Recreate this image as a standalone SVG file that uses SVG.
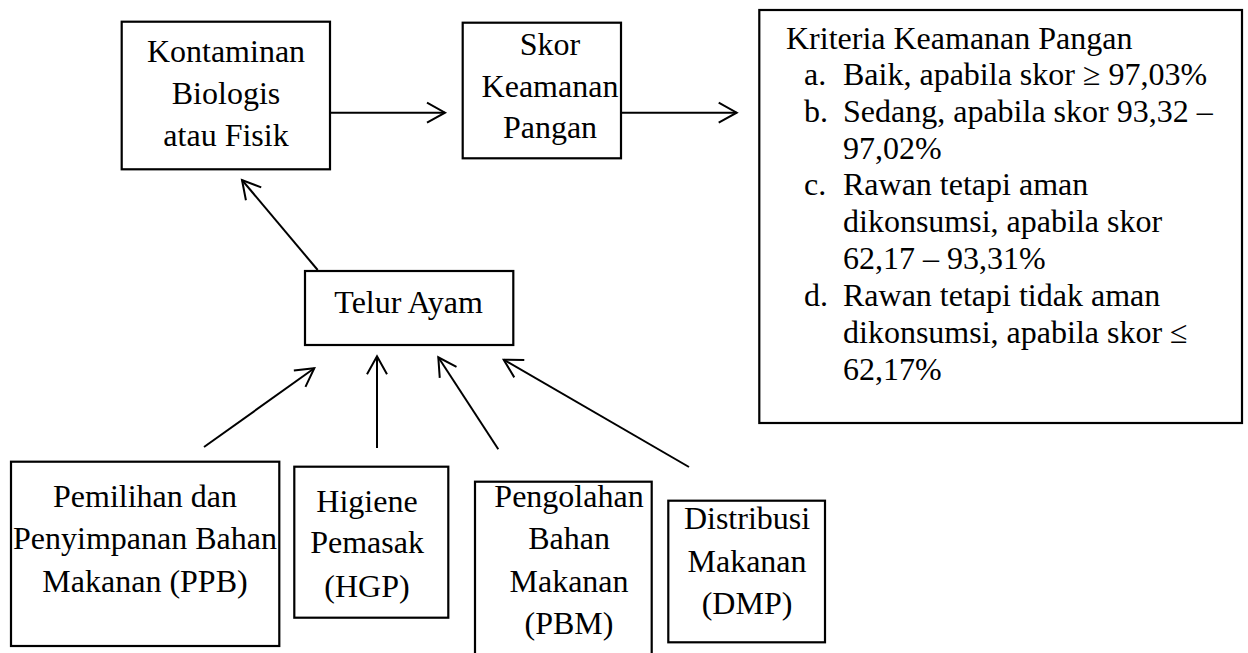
<svg xmlns="http://www.w3.org/2000/svg" width="1248" height="653" viewBox="0 0 1248 653">
<style>
  .box { fill: #ffffff; stroke: #000000; stroke-width: 2.2; }
  .t { font-family: "Liberation Serif", "Times New Roman", serif; font-size: 32px; fill: #000000; }
  .c { text-anchor: middle; }
  .conn { stroke: #000000; stroke-width: 2; fill: none; marker-end: url(#arr); }
</style>
<defs>
  <marker id="arr" markerUnits="userSpaceOnUse" viewBox="-22 -12 24 24" markerWidth="24" markerHeight="24" refX="0" refY="0" orient="auto" overflow="visible">
    <path d="M-18,-10 L0,0 L-18,10" fill="none" stroke="#000000" stroke-width="2"/>
  </marker>
</defs>
<rect x="0" y="0" width="1248" height="653" fill="#ffffff"/>

<g id="connectors">
  <path class="conn" d="M330,112.7 L445,112.7"/>
  <path class="conn" d="M621,112.7 L736.7,112.7"/>
  <path class="conn" d="M317.7,270 L242,180"/>
  <path class="conn" d="M204,447 L314.3,368.3"/>
  <path class="conn" d="M377,448 L377,356.3"/>
  <path class="conn" d="M498.3,449.3 L438.3,357.3"/>
  <path class="conn" d="M689,467 L503.7,359.7"/>
</g>

<g id="kontaminan">
  <rect class="box" x="121.7" y="21.7" width="208.3" height="147.6"/>
  <text class="t c" x="226" y="62">Kontaminan</text>
  <text class="t c" x="226" y="103.5">Biologis</text>
  <text class="t c" x="226" y="145.7">atau Fisik</text>
</g>

<g id="skor">
  <rect class="box" x="462.7" y="22.7" width="158.3" height="135.6"/>
  <text class="t c" x="550" y="55">Skor</text>
  <text class="t c" x="550" y="96.7">Keamanan</text>
  <text class="t c" x="550" y="138.3">Pangan</text>
</g>

<g id="kriteria">
  <rect class="box" x="759.3" y="10" width="482.7" height="413"/>
  <text class="t" x="786" y="49">Kriteria Keamanan Pangan</text>
  <text class="t" x="804" y="85">a.</text>
  <text class="t" x="843" y="85">Baik, apabila skor ≥ 97,03%</text>
  <text class="t" x="804" y="122">b.</text>
  <text class="t" x="843" y="122">Sedang, apabila skor 93,32 –</text>
  <text class="t" x="843" y="158.5">97,02%</text>
  <text class="t" x="804" y="195">c.</text>
  <text class="t" x="843" y="195">Rawan tetapi aman</text>
  <text class="t" x="843" y="232">dikonsumsi, apabila skor</text>
  <text class="t" x="843" y="269">62,17 – 93,31%</text>
  <text class="t" x="804" y="306">d.</text>
  <text class="t" x="843" y="306">Rawan tetapi tidak aman</text>
  <text class="t" x="843" y="343">dikonsumsi, apabila skor ≤</text>
  <text class="t" x="843" y="380">62,17%</text>
</g>

<g id="telur">
  <rect class="box" x="305" y="271" width="208.3" height="74"/>
  <text class="t c" x="408.6" y="312.5">Telur Ayam</text>
</g>

<g id="ppb">
  <rect class="box" x="11" y="461.7" width="268.3" height="184.3"/>
  <text class="t c" x="145" y="506.7">Pemilihan dan</text>
  <text class="t c" x="145" y="549.3">Penyimpanan Bahan</text>
  <text class="t c" x="145" y="591.7">Makanan (PPB)</text>
</g>

<g id="hgp">
  <rect class="box" x="294.3" y="466.7" width="154" height="151"/>
  <text class="t c" x="367" y="511.7">Higiene</text>
  <text class="t c" x="367" y="553.3">Pemasak</text>
  <text class="t c" x="367" y="596.7">(HGP)</text>
</g>

<g id="pbm">
  <rect class="box" x="475" y="481.7" width="176.7" height="190"/>
  <text class="t c" x="569" y="506.7">Pengolahan</text>
  <text class="t c" x="569" y="549.3">Bahan</text>
  <text class="t c" x="569" y="591.7">Makanan</text>
  <text class="t c" x="569" y="634">(PBM)</text>
</g>

<g id="dmp">
  <rect class="box" x="668.3" y="500.7" width="156.7" height="141.6"/>
  <text class="t c" x="747" y="529.3">Distribusi</text>
  <text class="t c" x="747" y="571.7">Makanan</text>
  <text class="t c" x="747" y="614">(DMP)</text>
</g>
</svg>
